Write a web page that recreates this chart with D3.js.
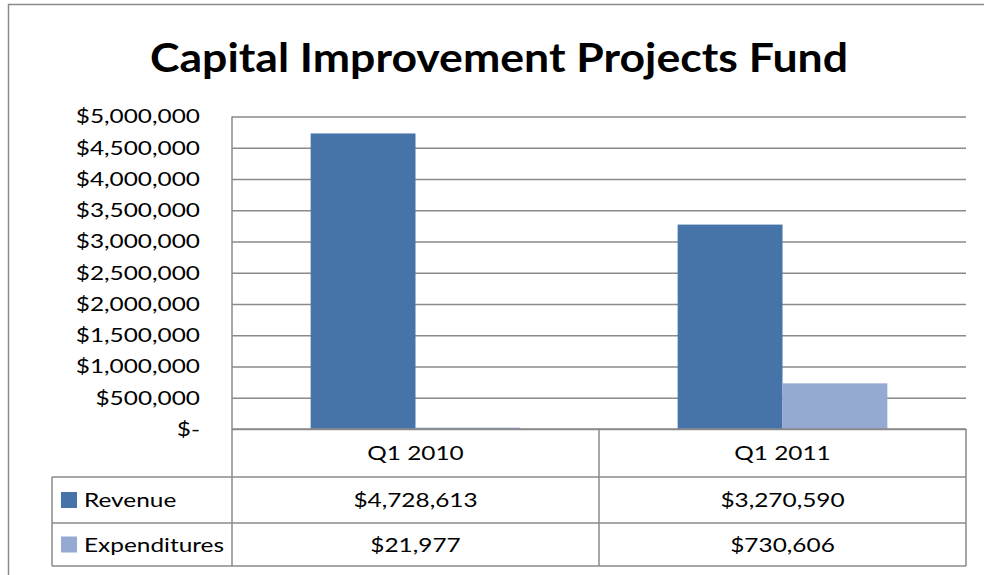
<!DOCTYPE html>
<html>
<head>
<meta charset="utf-8">
<script src="https://cdn.jsdelivr.net/npm/d3@7"></script>
<style>
  body { margin: 0; background: #fff; }
  text { font-family: Lato, "Open Sans", sans-serif; fill: #000; }
</style>
</head>
<body>
<div id="chart"></div>
<script>
// chart data
const categories = ["Q1 2010", "Q1 2011"];
const seriesNames = ["Revenue", "Expenditures"];
const revenue = [4728613, 3270590];
const expenditures = [21977, 730606];
const yTicks = [0, 500000, 1000000, 1500000, 2000000, 2500000, 3000000, 3500000, 4000000, 4500000, 5000000];
const colors = ["#4674A8", "#95AAD2"];

const width = 984, height = 575;
const plot = { left: 232, right: 966, top: 116.5, bottom: 429 };
const rowLines = [429, 477, 523, 566];
const tableLeft = 52;
const lineColor = "#8a8a8a";
const stretch = "scale(1.22,1)"; // the source text is wide, like Calibri drawn wider

const svg = d3.select("#chart").append("svg")
    .attr("width", width)
    .attr("height", height);

// outer chart border
svg.append("rect")
    .attr("x", 8.5).attr("y", 4.5)
    .attr("width", 990).attr("height", 600)
    .attr("fill", "none")
    .attr("stroke", lineColor)
    .attr("stroke-width", 1.5);

svg.append("text")
    .attr("x", 150).attr("y", 72)
    .attr("font-size", "41px")
    .attr("font-weight", "bold")
    .attr("textLength", 698)
    .attr("lengthAdjust", "spacingAndGlyphs")
    .text("Capital Improvement Projects Fund");

const y = d3.scaleLinear().domain([0, 5000000]).range([plot.bottom, plot.top]);
const x0 = d3.scaleBand().domain(categories).range([plot.left, plot.right]);
// gap width 150%: 0.75 bar on each side of a group
const x1 = d3.scaleBand().domain(seriesNames).range([0, x0.bandwidth()])
    .paddingInner(0).paddingOuter(0.75);

const fmtMoney = d => d === 0 ? "$-" : "$" + d3.format(",")(d);

// gridlines
svg.append("g")
    .attr("transform", `translate(${plot.left},0)`)
    .call(d3.axisLeft(y).tickValues(yTicks).tickSize(-(plot.right - plot.left)).tickFormat(""))
    .call(g => g.select(".domain").remove())
    .call(g => g.selectAll("line").attr("stroke", lineColor).attr("stroke-width", 1.5));

// y labels
svg.append("g")
    .attr("transform", `translate(200,0)`)
    .call(d3.axisLeft(y).tickValues(yTicks).tickSize(0).tickPadding(0).tickFormat(fmtMoney))
    .call(g => g.select(".domain").remove())
    .call(g => g.selectAll("text")
        .attr("font-size", "20px")
        .attr("font-family", "Lato, sans-serif")
        .attr("fill", "#000")
        .attr("transform", stretch));

const series = [revenue, expenditures];
const bars = [];
categories.forEach((c, i) => {
    seriesNames.forEach((s, j) => bars.push({ cat: c, name: s, value: series[j][i], color: colors[j] }));
});

svg.append("g").selectAll("rect").data(bars).join("rect")
    .attr("x", d => x0(d.cat) + x1(d.name))
    .attr("y", d => y(d.value))
    .attr("width", x1.bandwidth())
    .attr("height", d => y(0) - y(d.value))
    .attr("fill", d => d.color);

// data table lines
const tbl = svg.append("g").attr("stroke", lineColor).attr("stroke-width", 1.5);
tbl.append("line").attr("x1", plot.left).attr("x2", plot.left).attr("y1", plot.top).attr("y2", rowLines[3]);
tbl.append("line").attr("x1", plot.left).attr("x2", plot.right).attr("y1", rowLines[0]).attr("y2", rowLines[0]);
rowLines.slice(1).forEach(yy => {
    tbl.append("line").attr("x1", tableLeft).attr("x2", plot.right).attr("y1", yy).attr("y2", yy);
});
tbl.append("line").attr("x1", tableLeft).attr("x2", tableLeft).attr("y1", rowLines[1]).attr("y2", rowLines[3]);
categories.forEach(c => {
    const xr = x0(c) + x0.bandwidth();
    tbl.append("line").attr("x1", xr).attr("x2", xr).attr("y1", rowLines[0]).attr("y2", rowLines[3]);
});

// table text, placed in a translated group so the stretch keeps its anchor
const rowMid = i => (rowLines[i] + rowLines[i + 1]) / 2;
function cellText(x, yy, str, anchor) {
    svg.append("g")
        .attr("transform", `translate(${x},${yy})`)
        .append("text")
        .attr("transform", stretch)
        .attr("dy", "0.35em")
        .attr("text-anchor", anchor)
        .attr("font-size", "20px")
        .text(str);
}

categories.forEach(c => cellText(x0(c) + x0.bandwidth() / 2, rowMid(0), c, "middle"));

seriesNames.forEach((s, j) => {
    svg.append("rect")
        .attr("x", 61).attr("y", rowMid(j + 1) - 8)
        .attr("width", 16).attr("height", 16)
        .attr("fill", colors[j]);
    cellText(84, rowMid(j + 1), s, "start");
    categories.forEach((c, i) => cellText(x0(c) + x0.bandwidth() / 2, rowMid(j + 1), fmtMoney(series[j][i]), "middle"));
});
</script>
</body>
</html>
